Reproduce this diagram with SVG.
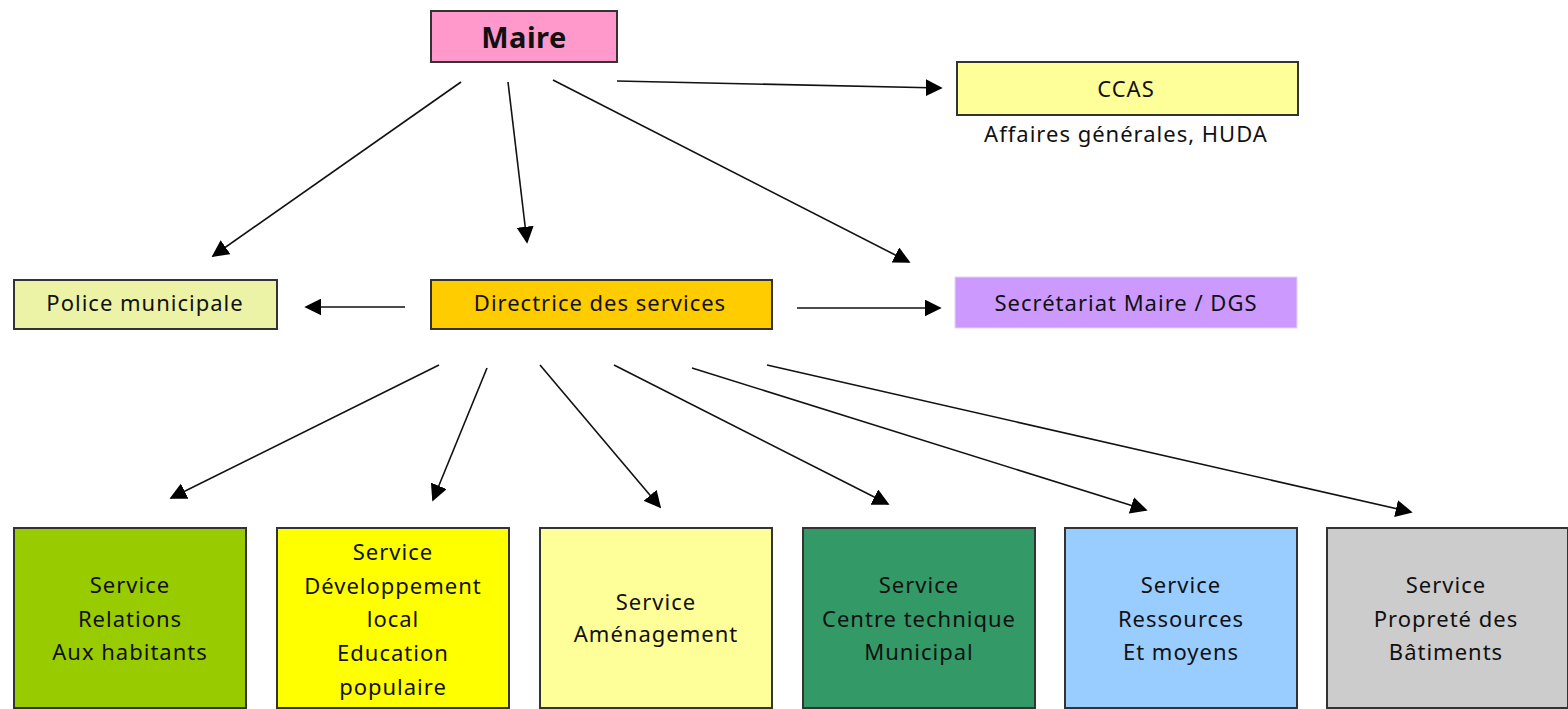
<svg xmlns="http://www.w3.org/2000/svg" width="1568" height="709" viewBox="0 0 1568 709">
<style>
.box{stroke:#333;stroke-width:2}
text{font-family:"Noto Sans","DejaVu Sans",sans-serif;font-size:22px;letter-spacing:1px;fill:#111;text-anchor:middle}
.c line{stroke:#111;stroke-width:1.6;marker-end:url(#ah)}
</style>
<defs>
<marker id="ah" viewBox="0 0 10 10" refX="9" refY="5" markerWidth="17" markerHeight="17" markerUnits="userSpaceOnUse" orient="auto"><path d="M0,0L10,5L0,10z" fill="#000"/></marker>
</defs>
<rect width="1568" height="709" fill="#fff"/>
<g class="c" id="connectors">
<line x1="461" y1="82" x2="213" y2="256"/>
<line x1="508" y1="82" x2="527" y2="242"/>
<line x1="553" y1="80" x2="909" y2="262"/>
<line x1="617" y1="81" x2="941" y2="88"/>
<line x1="405" y1="307" x2="306" y2="307"/>
<line x1="797" y1="308" x2="940" y2="308"/>
<line x1="439" y1="365" x2="171" y2="498"/>
<line x1="487" y1="368" x2="433" y2="500"/>
<line x1="540" y1="365" x2="660" y2="507"/>
<line x1="614" y1="365" x2="888" y2="504"/>
<line x1="692" y1="368" x2="1146" y2="510"/>
<line x1="767" y1="365" x2="1411" y2="512"/>
</g>
<g id="maire"><rect class="box" x="431" y="11" width="186" height="51" fill="#FF99CC"/><text x="524" y="48" style="font-weight:bold;font-size:29px;letter-spacing:0.5px">Maire</text></g>
<g id="ccas"><rect class="box" x="957" y="62" width="341" height="53" fill="#FFFF99"/><text x="1126" y="97">CCAS</text><text x="1126" y="142">Affaires générales, HUDA</text></g>
<g id="police"><rect class="box" x="14" y="280" width="263" height="49" fill="#ECF3A6"/><text x="145" y="311">Police municipale</text></g>
<g id="directrice"><rect class="box" x="431" y="280" width="341" height="49" fill="#FFCC00"/><text x="600" y="311">Directrice des services</text></g>
<g id="secretariat"><rect x="955" y="277" width="342" height="51" fill="#CC99FF" stroke="#E6D6F5" stroke-width="1"/><text x="1126" y="311">Secrétariat Maire / DGS</text></g>
<g id="s1"><rect class="box" x="14" y="528" width="232" height="180" fill="#99CC00"/><text x="130" y="593">Service</text><text x="130" y="627">Relations</text><text x="130" y="660">Aux habitants</text></g>
<g id="s2"><rect class="box" x="277" y="528" width="232" height="180" fill="#FFFF00"/><text x="393" y="560">Service</text><text x="393" y="594">Développement</text><text x="393" y="627">local</text><text x="393" y="661">Education</text><text x="393" y="695">populaire</text></g>
<g id="s3"><rect class="box" x="540" y="528" width="232" height="180" fill="#FFFF99"/><text x="656" y="610">Service</text><text x="656" y="642">Aménagement</text></g>
<g id="s4"><rect class="box" x="803" y="528" width="232" height="180" fill="#339966"/><text x="919" y="593">Service</text><text x="919" y="627">Centre technique</text><text x="919" y="660">Municipal</text></g>
<g id="s5"><rect class="box" x="1065" y="528" width="232" height="180" fill="#99CCFF"/><text x="1181" y="593">Service</text><text x="1181" y="627">Ressources</text><text x="1181" y="660">Et moyens</text></g>
<g id="s6"><rect class="box" x="1327" y="528" width="241" height="180" fill="#CCCCCC"/><text x="1446" y="593">Service</text><text x="1446" y="627">Propreté des</text><text x="1446" y="660">Bâtiments</text></g>
</svg>
